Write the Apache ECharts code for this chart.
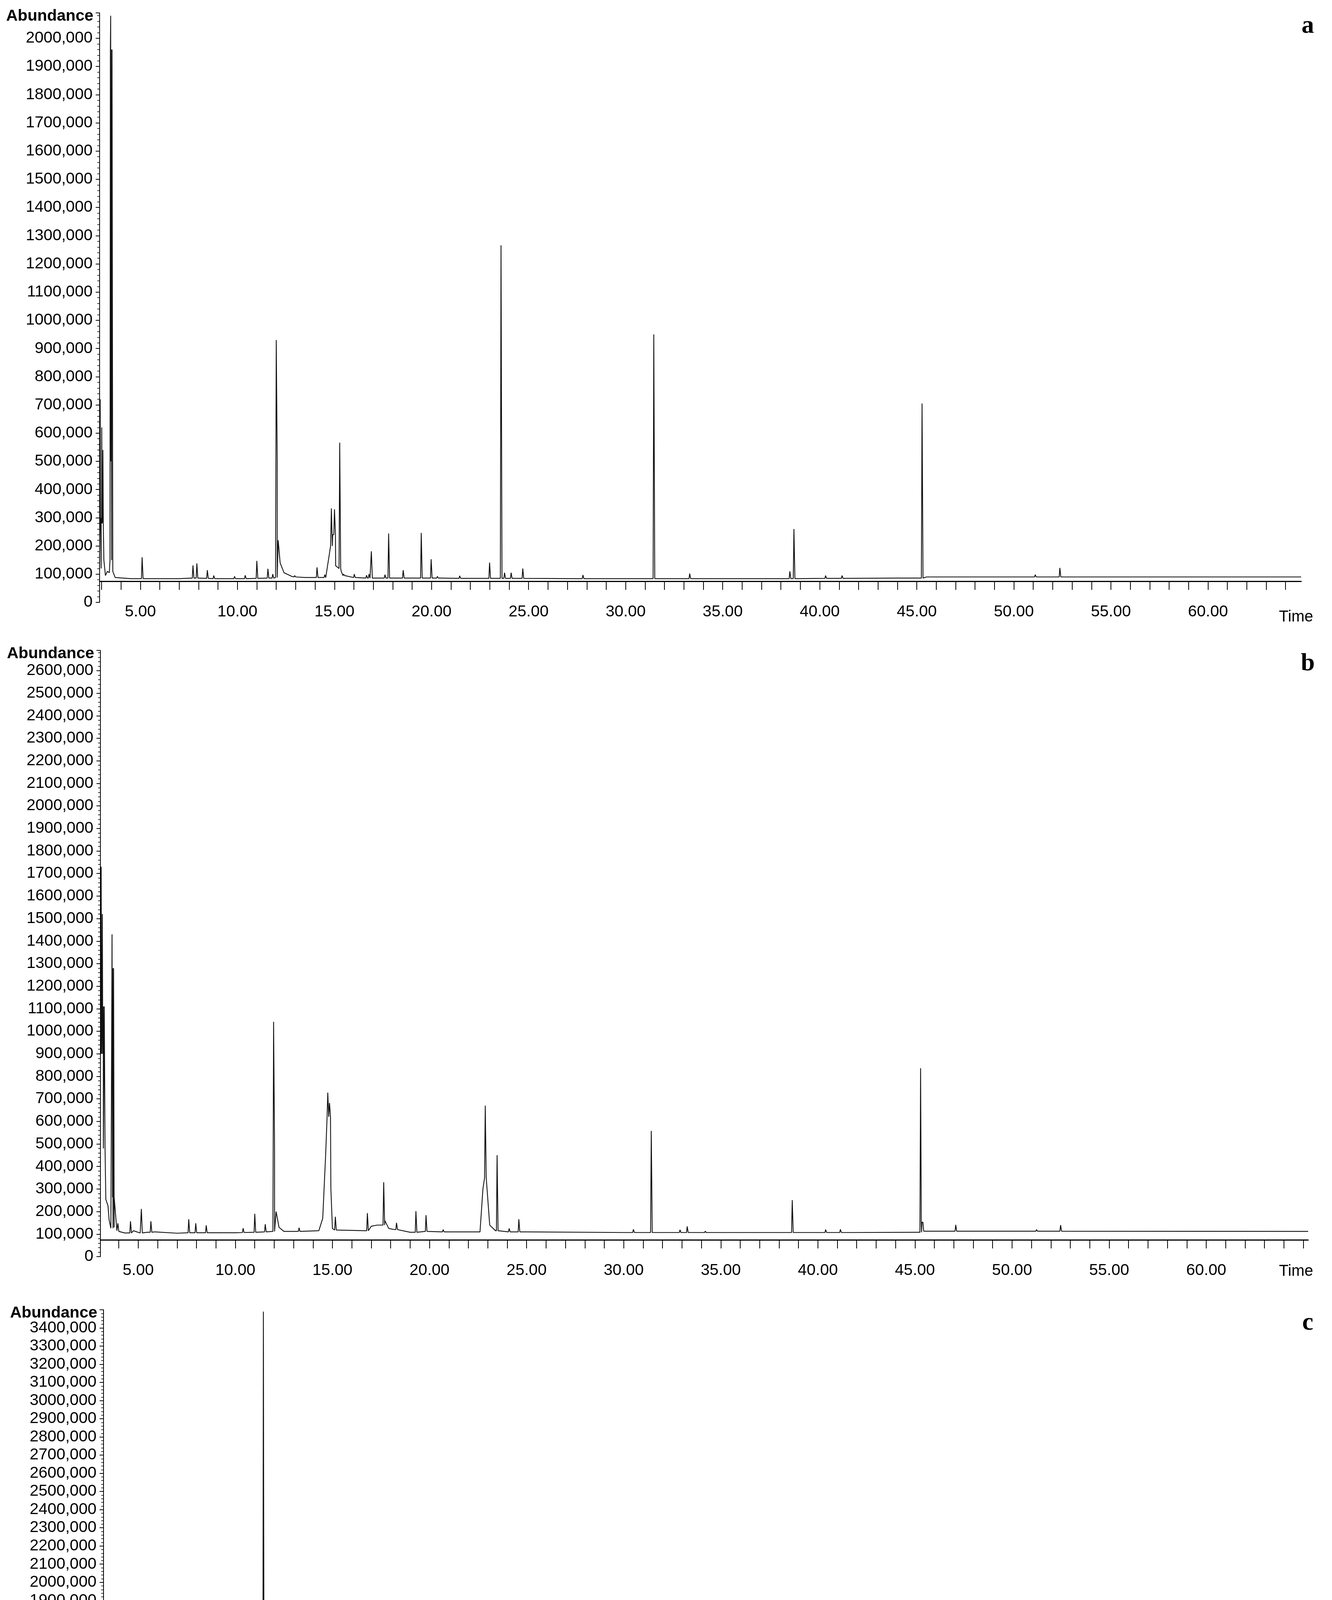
<!DOCTYPE html>
<html><head><meta charset="utf-8">
<script src="https://cdn.jsdelivr.net/npm/echarts@6/dist/echarts.min.js"></script>
<style>html,body{margin:0;padding:0;background:#fff}#c{width:3410px;height:5052px}</style>
</head><body><div id="c"></div>
<script>
// ---------- DATA ----------
const xTickLabelsA = [5,10,15,20,25,30,35,40,45,50,55,60];
const xTickLabelsC = [5,10,15,20,25,30,35,40,45,50,55];
const panelLetters = ['a','b','c'];

// panel a: baseline/tail points [time, abundance]
const baseA = [[2.9,120000],[3.12,150000],[3.2,95000],[3.3,110000],[3.4,105000],[3.58,110000],[3.7,88000],[4.5,84000],[7.0,84000],
  [12.05,500000],[12.1,220000],[12.2,140000],[12.4,105000],[12.8,92000],[13.5,88000],[14.8,200000],[14.91,240000],[15.06,130000],[15.35,110000],
  [16.0,90000],[20.5,86000],[30,84000],[44,86000],[45.5,90000],[64.8,90000]];
// panel a peaks [time, apex, foot]
const peaksA = [[2.93,720000,120000],[2.98,300000,300000],[3.01,620000,300000],[3.04,280000,280000],[3.07,540000,280000],
  [3.47,2080000,150000],[3.49,1960000,1960000],[3.52,500000,500000],[5.09,160000,84000],[7.71,131000,86000],[7.91,138000,86000],
  [8.45,114000,85000],[8.78,95000,84000],[9.85,92000,84000],[10.4,96000,84000],[11.0,147000,85000],[11.57,119000,86000],
  [11.82,100000,86000],[12.0,930000,88000],[12.95,95000,90000],[14.1,124000,88000],[14.5,98000,88000],[14.84,333000,200000],
  [15.0,330000,240000],[15.27,566000,120000],[15.47,100000,95000],[16.02,100000,88000],[16.65,96000,86000],[16.78,100000,86000],
  [16.9,181000,86000],[17.6,98000,86000],[17.79,244000,86000],[18.54,114000,86000],[19.47,246000,86000],[19.98,153000,86000],
  [20.3,92000,86000],[21.45,94000,85000],[22.99,141000,85000],[23.58,1266000,85000],[23.76,105000,85000],[24.1,105000,85000],
  [24.7,120000,85000],[27.8,97000,84000],[31.45,950000,84000],[33.3,102000,84000],[38.46,110000,84000],[38.67,260000,84000],
  [40.3,95000,85000],[41.15,95000,85000],[45.27,705000,86000],[51.1,98000,90000],[52.37,122000,90000]];

// panel b
const baseB = [[3.05,1100000],[3.33,254000],[3.44,226000],[3.5,162000],[3.59,126000],[3.76,130000],[3.9,115000],[4.3,105000],
  [4.75,115000],[5.1,105000],[5.45,108000],[5.85,110000],[7.0,104000],[10.0,106000],[12.02,470000],[12.1,200000],[12.25,130000],
  [12.5,112000],[14.3,115000],[14.5,170000],[14.65,450000],[14.92,300000],[15.0,125000],[16.7,115000],[17.0,135000],[17.3,140000],
  [17.55,140000],[17.7,160000],[17.9,125000],[18.2,120000],[19.0,108000],[22.6,110000],[22.75,300000],[22.95,350000],[23.1,140000],
  [23.4,115000],[25,110000],[30,107000],[45.2,108000],[45.45,113000],[65.25,112000]];
const peaksB = [[3.09,1730000,1100000],[3.12,900000,900000],[3.15,1520000,900000],[3.2,1110000,1110000],[3.24,480000,480000],
  [3.65,1430000,126000],[3.68,1280000,1280000],[3.71,263000,263000],[3.95,148000,112000],[4.6,157000,105000],[5.16,212000,105000],
  [5.65,157000,108000],[7.6,166000,106000],[7.96,148000,106000],[8.5,139000,106000],[10.4,126000,107000],[11.0,190000,108000],
  [11.54,144000,110000],[11.97,1042000,112000],[13.28,128000,112000],[14.76,728000,620000],[14.85,682000,620000],[15.15,177000,118000],
  [16.8,193000,115000],[17.64,330000,140000],[18.3,150000,120000],[19.3,202000,108000],[19.82,184000,112000],[20.7,120000,110000],
  [22.87,670000,350000],[23.48,450000,115000],[24.1,125000,110000],[24.6,166000,110000],[30.5,121000,107000],[31.42,558000,107000],
  [32.9,119000,107000],[33.27,134000,107000],[34.2,113000,107000],[38.68,251000,107000],[40.4,120000,107000],[41.16,121000,107000],
  [41.6,110000,107000],[45.29,836000,108000],[45.36,153000,153000],[47.1,141000,113000],[48.66,115000,113000],[51.26,120000,113000],
  [52.5,140000,113000]];

// panel c
const baseC = [[2.96,180000],[3.05,150000],[3.3,145000],[4.0,140000],[6.8,138000],[7.2,145000],[8.0,150000],[9.0,150000],
  [10.5,150000],[11.0,240000],[11.1,180000],[12.0,165000],[13.0,170000],[14.0,175000],[14.64,500000],[14.8,226000],[15.0,180000],
  [16.0,175000],[17.0,175000],[18.0,175000],[19.0,170000],[19.85,250000],[20.2,165000],[22.5,160000],[24.9,150000],[26,140000],
  [31,136000],[40,136000],[50,140000],[62.7,142000]];
const peaksC = [[4.5,166000,140000],[6.9,238000,138000],[7.4,160000,145000],[7.7,166000,145000],[8.08,255000,150000],
  [8.18,1260000,150000],[8.35,183000,150000],[8.7,430000,150000],[9.33,178000,150000],[9.8,170000,150000],[10.28,190000,150000],
  [10.9,3490000,150000],[11.45,635000,175000],[11.7,226000,170000],[12.1,274000,165000],[12.4,180000,165000],[12.5,175000,165000],
  [12.66,262000,168000],[12.94,207000,170000],[13.23,214000,170000],[13.38,202000,170000],[13.74,190000,172000],[13.96,250000,175000],
  [14.32,286000,175000],[14.45,226000,175000],[14.7,1108000,226000],[15.1,207000,180000],[15.3,334000,180000],[15.48,856000,180000],
  [15.8,207000,175000],[16.08,269000,175000],[16.35,195000,175000],[16.6,192000,175000],[16.8,195000,175000],[17.0,190000,175000],
  [17.22,226000,175000],[17.5,185000,175000],[17.99,238000,175000],[18.35,226000,172000],[18.75,678000,172000],[18.99,214000,170000],
  [19.3,182000,170000],[19.66,413000,170000],[19.77,519000,413000],[20.66,178000,165000],[21.3,185000,162000],[21.87,190000,160000],
  [22.0,255000,160000],[22.53,166000,158000],[22.98,269000,156000],[23.6,170000,154000],[24.1,207000,152000],[24.6,286000,150000],
  [27.2,150000,140000],[31.3,159000,136000],[41.0,143000,136000]];

// ---------- BUILD ----------
function trace(base, peaks){
  const pts = base.slice();
  peaks.forEach(p => { pts.push([p[0]-0.035,p[2]],[p[0],p[1]],[p[0]+0.05,p[2]]); });
  pts.sort((a,b)=>a[0]-b[0]);
  return pts;
}
const panels = [
  {top:33, height:1509, left:255, width:3076, xmin:2.9, xmax:64.8, ymax:2090000, ylab:2000000, off:-54, lab:xTickLabelsA, data:trace(baseA,peaksA)},
  {top:1665, height:1552, left:257, width:3092, xmin:3.05, xmax:65.25, ymax:2690000, ylab:2600000, off:-43, lab:xTickLabelsA, data:trace(baseB,peaksB)},
  {top:3353, height:1628, left:265, width:3079, xmin:2.96, xmax:62.7, ymax:3500000, ylab:3400000, off:-54, lab:xTickLabelsC, data:trace(baseC,peaksC)}
];
const FONT = 'Liberation Sans';
const grid=[], xAxis=[], yAxis=[], series=[], graphic=[];
panels.forEach((p,i)=>{
  grid.push({left:p.left, top:p.top, width:p.width, height:p.height});
  const minorT=[]; for(let t=Math.ceil(p.xmin); t<=p.xmax; t++) minorT.push(t);
  xAxis.push({type:'value', gridIndex:i, min:p.xmin, max:p.xmax, offset:p.off,
    axisLine:{show:true, onZero:false, lineStyle:{color:'#000', width:3}},
    axisTick:{show:true, customValues:minorT, length:22, lineStyle:{color:'#000', width:2}},
    axisLabel:{show:true, customValues:p.lab, margin:58, fontFamily:FONT, fontSize:41, color:'#000', formatter:v=>v.toFixed(2)},
    splitLine:{show:false}});
  yAxis.push({type:'value', gridIndex:i, min:0, max:p.ymax, interval:100000,
    axisLine:{show:true, lineStyle:{color:'#000', width:2}},
    axisTick:{show:true, length:10, lineStyle:{color:'#000', width:2}},
    minorTick:{show:true, splitNumber:5, length:6, lineStyle:{color:'#000', width:1.5}},
    axisLabel:{margin:18, fontFamily:FONT, fontSize:41, color:'#000',
      formatter:v=> v>p.ylab ? '' : (v===0 ? '0' : (v/1000)+',000')},
    splitLine:{show:false}});
  series.push({type:'line', xAxisIndex:i, yAxisIndex:i, data:p.data, showSymbol:false, symbol:'none',
    lineStyle:{color:'#111', width:2.2}, sampling:null, silent:true});
  graphic.push({type:'text', x:p.left-16, y:p.top-12, style:{text:'Abundance', font:'bold 41px "Liberation Sans"', fill:'#000', textAlign:'right'}});
  graphic.push({type:'text', x:3318, y:p.top+p.height+18, style:{text:'Time', font:'40px "Liberation Sans"', fill:'#000', textAlign:'center'}});
  graphic.push({type:'text', x:3348, y:p.top+2, style:{text:panelLetters[i], font:'bold 64px "Liberation Serif"', fill:'#000', textAlign:'center'}});
});
const chart = echarts.init(document.getElementById('c'), null, {renderer:'canvas'});
chart.setOption({animation:false, backgroundColor:'#fff', grid, xAxis, yAxis, series, graphic});
</script></body></html>
